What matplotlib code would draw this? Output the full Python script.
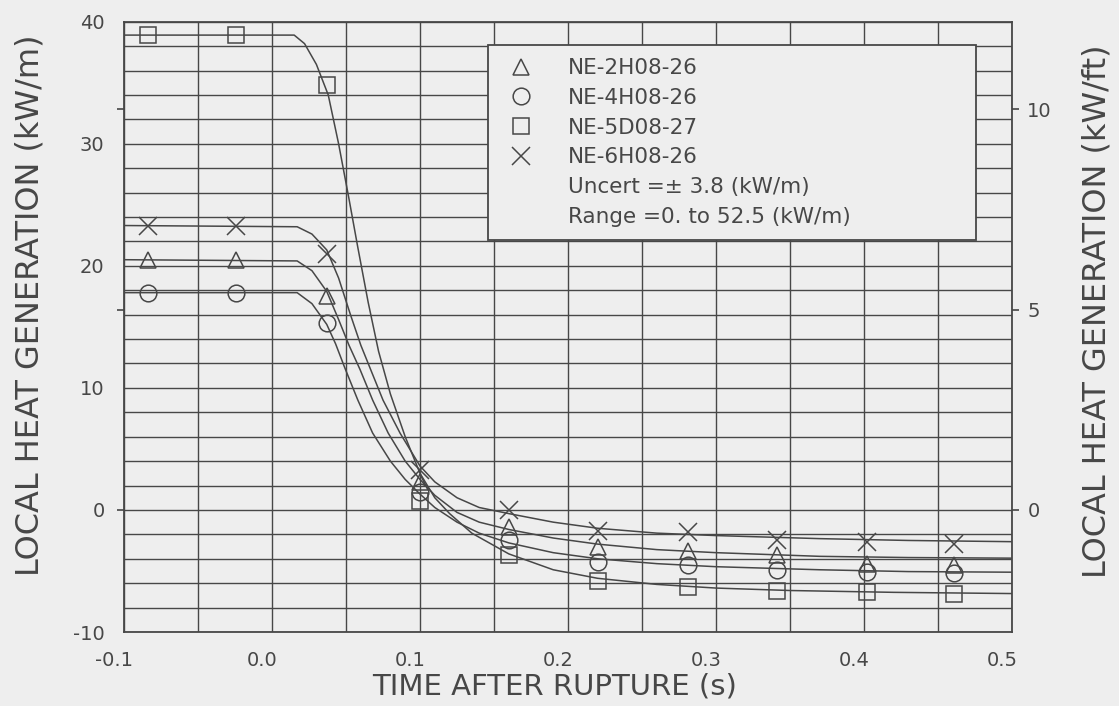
import matplotlib
matplotlib.use("Agg")
import matplotlib.pyplot as plt
import matplotlib.transforms as mtransforms
from matplotlib.lines import Line2D
from matplotlib.ticker import MultipleLocator, FormatStrFormatter

plt.rcParams["font.family"] = ["DejaVu Sans"]
plt.rcParams["axes.unicode_minus"] = False

INK = "#474747"
PAPER = "#eeeeee"
KW_M_PER_KW_FT = 3.2808

# Sample times after rupture (s)
times = [-0.084, -0.024, 0.037, 0.100, 0.160, 0.220, 0.281, 0.341, 0.402, 0.461]

# Measured local heat generation (kW/m)
ne_2h08_26 = [20.5, 20.5, 17.5, 2.3, -1.4, -3.0, -3.4, -3.7, -4.4, -4.5]
ne_4h08_26 = [17.8, 17.8, 15.3, 1.5, -2.5, -4.3, -4.5, -4.9, -5.1, -5.2]
ne_5d08_27 = [38.9, 38.9, 34.8, 0.7, -3.7, -5.8, -6.3, -6.6, -6.7, -6.9]
ne_6h08_26 = [23.3, 23.3, 21.0, 3.3, 0.0, -1.7, -1.8, -2.5, -2.6, -2.8]

# Fitted trend curves (time s, kW/m)
fit_2h_t = [-0.1, 0.017, 0.027, 0.037, 0.045, 0.052, 0.0595, 0.068, 0.0785, 0.090,
            0.100, 0.110, 0.125, 0.140, 0.160, 0.190, 0.220, 0.260, 0.300, 0.370, 0.430, 0.500]
fit_2h_v = [20.5, 20.4, 19.6, 17.9, 15.6, 13.5, 11.5, 9.0, 6.3, 4.0,
            2.5, 1.2, -0.2, -1.0, -1.6, -2.3, -2.8, -3.25, -3.5, -3.8, -3.9, -3.95]

fit_4h_t = [-0.1, 0.017, 0.027, 0.037, 0.043, 0.049, 0.058, 0.068, 0.080, 0.090,
            0.100, 0.110, 0.125, 0.140, 0.160, 0.190, 0.220, 0.260, 0.300, 0.370, 0.430, 0.500]
fit_4h_v = [17.8, 17.8, 16.9, 15.2, 13.6, 11.7, 9.0, 6.3, 4.0, 2.5,
            1.3, 0.2, -1.0, -1.9, -2.7, -3.5, -4.0, -4.4, -4.65, -4.9, -5.05, -5.1]

fit_5d_t = [-0.1, 0.015, 0.022, 0.030, 0.038, 0.045, 0.052, 0.058, 0.065, 0.072, 0.080,
            0.090, 0.100, 0.110, 0.120, 0.135, 0.160, 0.190, 0.220, 0.260, 0.300, 0.350, 0.420, 0.500]
fit_5d_v = [38.9, 38.9, 38.2, 36.5, 34.0, 30.0, 25.5, 21.5, 17.0, 13.0, 9.5,
            6.0, 3.0, 1.0, -0.3, -1.9, -3.6, -4.9, -5.6, -6.1, -6.4, -6.6, -6.75, -6.85]

fit_6h_t = [-0.1, 0.017, 0.027, 0.037, 0.045, 0.053, 0.060, 0.066, 0.075, 0.0865,
            0.100, 0.110, 0.125, 0.140, 0.160, 0.190, 0.220, 0.260, 0.300, 0.370, 0.430, 0.500]
fit_6h_v = [23.3, 23.2, 22.6, 21.3, 19.0, 16.0, 13.5, 11.7, 9.0, 6.3,
            3.6, 2.3, 1.0, 0.2, -0.3, -1.0, -1.5, -1.9, -2.1, -2.35, -2.5, -2.6]

legend_labels = ["NE-2H08-26", "NE-4H08-26", "NE-5D08-27", "NE-6H08-26"]
note_lines = ["Uncert =\u00b1 3.8 (kW/m)", "Range =0. to 52.5 (kW/m)"]

fig = plt.figure(figsize=(11.19, 7.06), dpi=100, facecolor=PAPER)
ax = fig.add_axes([0.1108, 0.1048, 0.7936, 0.8645], facecolor=PAPER)

ax.set_xlim(-0.1, 0.5)
ax.set_ylim(-10, 40)

ax.xaxis.set_major_locator(MultipleLocator(0.1))
ax.xaxis.set_minor_locator(MultipleLocator(0.05))
ax.yaxis.set_major_locator(MultipleLocator(10))
ax.yaxis.set_minor_locator(MultipleLocator(2))
ax.xaxis.set_major_formatter(FormatStrFormatter("%.1f"))
ax.yaxis.set_major_formatter(FormatStrFormatter("%d"))
ax.grid(True, which="both", color=INK, linewidth=1.0)
ax.set_axisbelow(True)

ax.tick_params(axis="both", which="both", length=0, colors=INK, labelsize=14)
ax.tick_params(axis="x", pad=14)
ax.tick_params(axis="y", pad=14)
shift = mtransforms.ScaledTranslation(-10 / 100, 0, fig.dpi_scale_trans)
for lab in ax.get_xticklabels():
    lab.set_transform(lab.get_transform() + shift)

for s in ax.spines.values():
    s.set_color(INK)
    s.set_linewidth(1.3)

line_kw = dict(color=INK, linewidth=1.1, zorder=3)
ax.plot(fit_2h_t, fit_2h_v, **line_kw)
ax.plot(fit_4h_t, fit_4h_v, **line_kw)
ax.plot(fit_5d_t, fit_5d_v, **line_kw)
ax.plot(fit_6h_t, fit_6h_v, **line_kw)

mk_kw = dict(linestyle="none", mfc="none", mec=INK, mew=1.1, zorder=4)
h1, = ax.plot(times, ne_2h08_26, marker="^", ms=12, **mk_kw)
h2, = ax.plot(times, ne_4h08_26, marker="o", ms=12, **mk_kw)
h3, = ax.plot(times, ne_5d08_27, marker="s", ms=12, **mk_kw)
h4, = ax.plot(times, ne_6h08_26, marker="x", ms=13, **mk_kw)

blank = [Line2D([], [], linestyle="none", marker=None) for _ in note_lines]
leg = ax.legend([h1, h2, h3, h4] + blank, legend_labels + note_lines,
                loc="upper left", bbox_to_anchor=(0.410, 0.962, 0.5495, 0.0),
                mode="expand", frameon=True, fancybox=False, framealpha=1.0,
                facecolor=PAPER, edgecolor=INK, fontsize=15.5, labelcolor=INK,
                handlelength=1.8, handletextpad=1.3, borderpad=0.62,
                labelspacing=0.45, borderaxespad=0)
leg.get_frame().set_linewidth(1.3)
leg.set_zorder(10)

ax.set_xlabel("TIME AFTER RUPTURE (s)", fontsize=21, color=INK)
ax.xaxis.set_label_coords(0.485, -0.067)
ax.set_ylabel("LOCAL HEAT GENERATION (kW/m)", fontsize=23, color=INK)
ax.yaxis.set_label_coords(-0.088, 0.535)

# Secondary scale in kW/ft
ax2 = ax.twinx()
ax2.set_ylim(-10 / KW_M_PER_KW_FT, 40 / KW_M_PER_KW_FT)
ax2.yaxis.set_major_locator(MultipleLocator(5))
ax2.yaxis.set_major_formatter(FormatStrFormatter("%d"))
ax2.tick_params(axis="y", left=True, right=True, direction="out", length=5,
                width=1.2, colors=INK, labelsize=14, pad=6)
for s in ax2.spines.values():
    s.set_visible(False)
ax2.set_ylabel("LOCAL HEAT GENERATION (kW/ft)", fontsize=23, color=INK)
ax2.yaxis.set_label_coords(1.078, 0.525)

fig.savefig("out.png", dpi=100, facecolor=PAPER)
